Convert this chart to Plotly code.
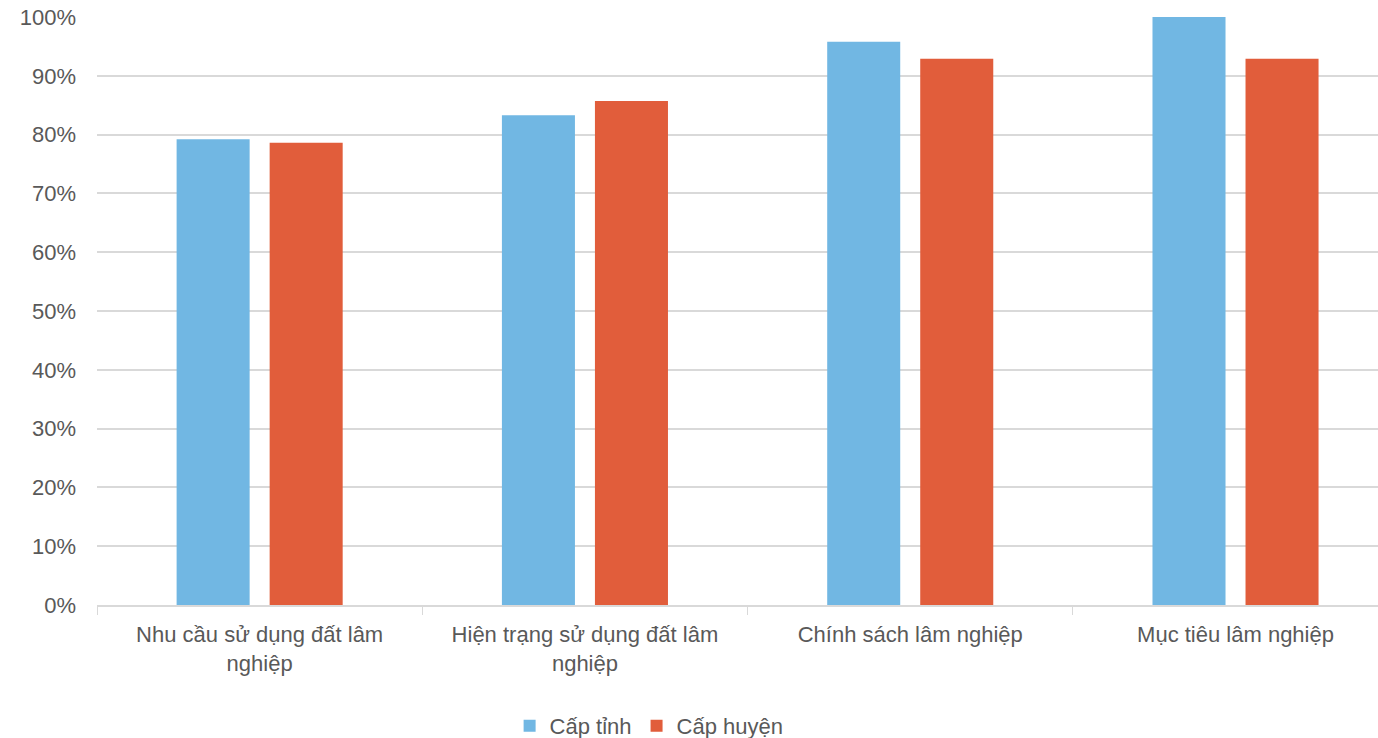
import plotly.graph_objects as go

categories = [
    "Nhu cầu sử dụng đất lâm<br>nghiệp",
    "Hiện trạng sử dụng đất lâm<br>nghiệp",
    "Chính sách lâm nghiệp",
    "Mục tiêu lâm nghiệp",
]
cap_tinh = [0.792, 0.833, 0.958, 1.0]
cap_huyen = [0.786, 0.857, 0.929, 0.929]
y_ticks = [0, 0.1, 0.2, 0.3, 0.4, 0.5, 0.6, 0.7, 0.8, 0.9, 1.0]

FONT = "Liberation Sans, Arial, sans-serif"
TEXT = "#595959"
GRID = "#d9d9d9"

fig = go.Figure()
fig.add_trace(go.Bar(name="Cấp tỉnh", x=categories, y=cap_tinh,
                     marker=dict(color="#71b7e3", line=dict(width=0))))
fig.add_trace(go.Bar(name="Cấp huyện", x=categories, y=cap_huyen,
                     marker=dict(color="#e15d3b", line=dict(width=0))))

fig.update_layout(
    width=1378, height=738,
    margin=dict(l=97, r=0, t=17, b=133),
    paper_bgcolor="white", plot_bgcolor="white",
    barmode="group", bargap=0.428, bargroupgap=0.215,
    font=dict(family=FONT, size=22, color=TEXT),
    showlegend=True,
    legend=dict(orientation="h", xref="paper", yref="container",
                x=0.431, xanchor="center", y=12 / 738, yanchor="middle",
                font=dict(size=22, color=TEXT), itemwidth=30,
                traceorder="normal"),
    xaxis=dict(
        range=[-0.5, 3.438], showgrid=False,
        showline=True, linecolor=GRID, linewidth=2,
        ticks="outside", tickson="boundaries", ticklen=8,
        tickcolor=GRID, tickwidth=1,
        tickfont=dict(size=22, color=TEXT), ticklabelstandoff=9,
    ),
    yaxis=dict(
        range=[0, 1.0], tickvals=y_ticks, tickformat=".0%",
        showgrid=True, gridcolor=GRID, gridwidth=2,
        showline=False, zeroline=False, ticks="",
        tickfont=dict(size=22, color=TEXT), ticklabelstandoff=20,
    ),
)

fig.write_html("out.html")
